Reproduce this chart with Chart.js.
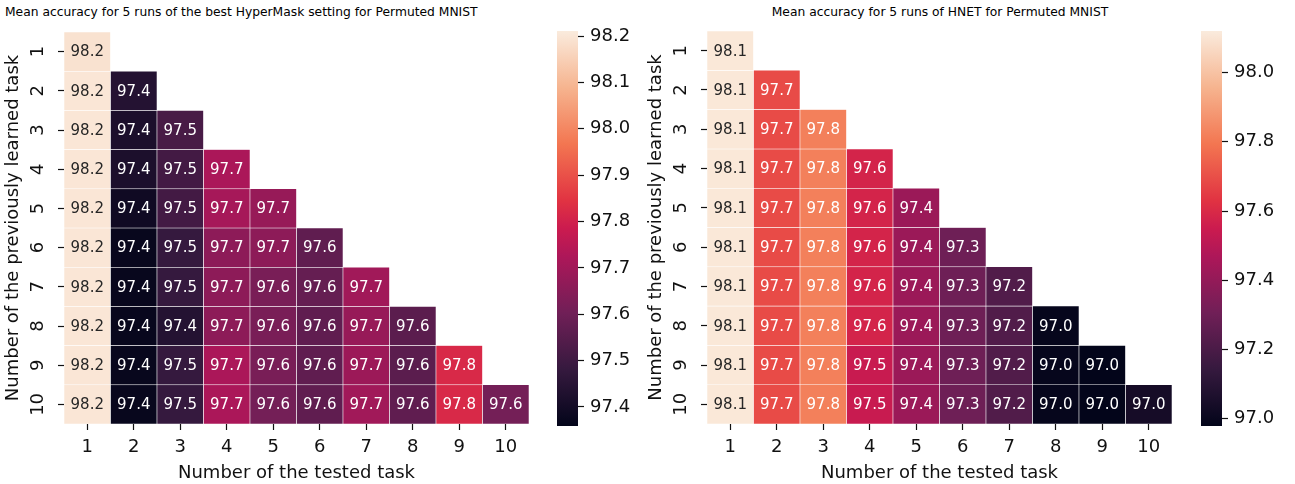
<!DOCTYPE html>
<html>
<head>
<meta charset="utf-8">
<script src="https://cdn.jsdelivr.net/npm/chart.js@4.4.1/dist/chart.umd.min.js"></script>
<style>
  body { margin: 0; background: #fff; }
  #page { position: relative; width: 1295px; height: 484px; overflow: hidden; font-family: "DejaVu Sans", sans-serif; }
  canvas { position: absolute; top: 0; }
  .title { position: absolute; top: 5px; font-size: 12.3px; color: #000; white-space: nowrap; }
</style>
</head>
<body>
<div id="page">
  <div class="title" id="titleLeft" style="left:5px">Mean accuracy for 5 runs of the best HyperMask setting for Permuted MNIST</div>
  <div class="title" id="titleRight" style="left:940px; transform:translateX(-50%)">Mean accuracy for 5 runs of HNET for Permuted MNIST</div>
  <canvas id="hmLeft" width="540" height="484" style="left:0"></canvas>
  <canvas id="cbLeft" width="81" height="484" style="left:557px"></canvas>
  <canvas id="hmRight" width="540" height="484" style="left:643px"></canvas>
  <canvas id="cbRight" width="81" height="484" style="left:1201px"></canvas>
</div>
<script>
// tasks on both axes
const tasks = ['1', '2', '3', '4', '5', '6', '7', '8', '9', '10']

// row = number of previously learned tasks, column = tested task
const hyperMask = [
  [98.19],
  [98.20, 97.44],
  [98.20, 97.42, 97.52],
  [98.20, 97.42, 97.51, 97.72],
  [98.20, 97.39, 97.51, 97.71, 97.68],
  [98.20, 97.37, 97.48, 97.66, 97.66, 97.57],
  [98.20, 97.37, 97.48, 97.66, 97.62, 97.58, 97.70],
  [98.20, 97.37, 97.44, 97.66, 97.62, 97.57, 97.68, 97.56],
  [98.20, 97.37, 97.48, 97.72, 97.62, 97.57, 97.69, 97.56, 97.82],
  [98.20, 97.37, 97.48, 97.72, 97.61, 97.57, 97.70, 97.57, 97.82, 97.61]
]

const hnet = [
  [98.11],
  [98.11, 97.69],
  [98.11, 97.69, 97.82],
  [98.11, 97.69, 97.82, 97.58],
  [98.11, 97.69, 97.82, 97.58, 97.42],
  [98.11, 97.69, 97.82, 97.58, 97.42, 97.30],
  [98.11, 97.69, 97.82, 97.58, 97.42, 97.30, 97.22],
  [98.11, 97.69, 97.82, 97.58, 97.42, 97.30, 97.22, 96.99],
  [98.11, 97.69, 97.82, 97.54, 97.42, 97.30, 97.22, 96.99, 96.98],
  [98.11, 97.69, 97.82, 97.54, 97.42, 97.30, 97.22, 96.99, 96.98, 97.04]
]

// colour limits and colorbar ticks
const hyperMaskRange = [97.359, 98.211]
const hnetRange = [96.979, 98.12]
const hyperMaskTicks = [97.4, 97.5, 97.6, 97.7, 97.8, 97.9, 98.0, 98.1, 98.2]
const hnetTicks = [97.0, 97.2, 97.4, 97.6, 97.8, 98.0]

// seaborn "rocket" colormap, sampled
const rocket = [
  [0, '#03051a'], [1 / 7, '#35193e'], [2 / 7, '#701f57'], [3 / 7, '#ad1759'],
  [0.5, '#cb1b4f'], [4 / 7, '#e13342'], [5 / 7, '#f37651'], [6 / 7, '#f6b48f'], [1, '#faebdd']
]

const INK = '#111111'
Chart.defaults.font.family = '"DejaVu Sans", sans-serif'
Chart.defaults.color = INK

function hexRgb(h) {
  return [1, 3, 5].map(k => parseInt(h.slice(k, k + 2), 16))
}

function rocketRgb(t) {
  t = Math.min(1, Math.max(0, t))
  for (let k = 1; k < rocket.length; k++) {
    if (t <= rocket[k][0]) {
      const [t0, c0] = rocket[k - 1]
      const [t1, c1] = rocket[k]
      const f = (t - t0) / (t1 - t0)
      const a = hexRgb(c0), b = hexRgb(c1)
      return a.map((v, n) => Math.round(v + (b[n] - v) * f))
    }
  }
  return hexRgb(rocket[rocket.length - 1][1])
}

// same rule seaborn uses to pick dark or white annotation text
function textColor(rgb) {
  const lin = rgb.map(v => {
    v /= 255
    return v <= 0.03928 ? v / 12.92 : Math.pow((v + 0.055) / 1.055, 2.4)
  })
  const lum = 0.2126 * lin[0] + 0.7152 * lin[1] + 0.0722 * lin[2]
  return lum > 0.408 ? '#262626' : '#ffffff'
}

function cellLabels(rows, range) {
  const [vmin, vmax] = range
  return {
    id: 'cellLabels',
    afterDatasetsDraw(chart) {
      const ctx = chart.ctx
      ctx.save()
      ctx.font = '15px "DejaVu Sans"'
      ctx.textAlign = 'center'
      ctx.textBaseline = 'middle'
      rows.forEach((row, i) => {
        chart.getDatasetMeta(i).data.forEach((el, j) => {
          if (j >= row.length) return
          ctx.fillStyle = textColor(rocketRgb((row[j] - vmin) / (vmax - vmin)))
          ctx.fillText(row[j].toFixed(1), el.x, (el.y + el.base) / 2 + 1)
        })
      })
      ctx.restore()
    }
  }
}

function heatmap(id, rows, range, top) {
  const [vmin, vmax] = range
  const tickGrid = { drawOnChartArea: false, tickLength: 6, tickColor: INK, tickWidth: 1.2, offset: false }
  return new Chart(document.getElementById(id), {
    type: 'bar',
    data: {
      labels: tasks,
      datasets: rows.map((row, i) => ({
        data: tasks.map((_, j) => j < row.length ? [i + 0.5, i + 1.5] : null),
        backgroundColor: ctx => 'rgb(' + rocketRgb((row[ctx.dataIndex] - vmin) / (vmax - vmin)).join(',') + ')',
        borderColor: '#ffffff',
        borderWidth: 0.6,
        borderSkipped: false,
        barPercentage: 1,
        categoryPercentage: 1,
        grouped: false
      }))
    },
    options: {
      responsive: false,
      animation: false,
      layout: { padding: { top: top, right: 11, left: 0, bottom: 0 } },
      plugins: { legend: { display: false }, tooltip: { enabled: false } },
      scales: {
        x: {
          grid: tickGrid,
          border: { display: false },
          ticks: { font: { size: 18 }, padding: 7, maxRotation: 0 },
          title: { display: true, text: 'Number of the tested task', font: { size: 18 }, padding: { top: 0, bottom: 0 } },
          afterFit: s => { s.height = 60 }
        },
        y: {
          type: 'linear',
          min: 0.5,
          max: 10.5,
          reverse: true,
          afterBuildTicks: s => { s.ticks = tasks.map((_, i) => ({ value: i + 1 })) },
          grid: tickGrid,
          border: { display: false },
          ticks: { font: { size: 18 }, minRotation: 90, maxRotation: 90, crossAlign: 'center', padding: 8, callback: v => String(v) },
          title: { display: true, text: 'Number of the previously learned task', font: { size: 18 }, padding: { top: 3, bottom: 0 } },
          afterFit: s => { s.width = 64 }
        }
      }
    },
    plugins: [cellLabels(rows, range)]
  })
}

function colorbar(id, range, ticks) {
  const [vmin, vmax] = range
  return new Chart(document.getElementById(id), {
    type: 'bar',
    data: {
      labels: [''],
      datasets: [{
        data: [[vmin, vmax]],
        backgroundColor: ctx => {
          const chart = ctx.chart
          if (!chart.chartArea) return '#000'
          const y = chart.scales.y
          const g = chart.ctx.createLinearGradient(0, y.getPixelForValue(vmin), 0, y.getPixelForValue(vmax))
          rocket.forEach(([t, c]) => g.addColorStop(t, c))
          return g
        },
        borderWidth: 0,
        barPercentage: 1,
        categoryPercentage: 1
      }]
    },
    options: {
      responsive: false,
      animation: false,
      layout: { padding: { top: 31, bottom: 58, left: 0, right: 0 } },
      plugins: { legend: { display: false }, tooltip: { enabled: false } },
      scales: {
        x: { display: false },
        y: {
          position: 'right',
          min: vmin,
          max: vmax,
          afterBuildTicks: s => { s.ticks = ticks.map(v => ({ value: v })) },
          grid: { drawOnChartArea: false, tickLength: 6, tickColor: INK, tickWidth: 1.2 },
          border: { display: false },
          ticks: { font: { size: 18 }, padding: 6, callback: v => v.toFixed(1) },
          afterFit: s => { s.width = 60 }
        }
      }
    }
  })
}

heatmap('hmLeft', hyperMask, hyperMaskRange, 32)
colorbar('cbLeft', hyperMaskRange, hyperMaskTicks)
heatmap('hmRight', hnet, hnetRange, 31)
colorbar('cbRight', hnetRange, hnetTicks)
</script>
</body>
</html>
